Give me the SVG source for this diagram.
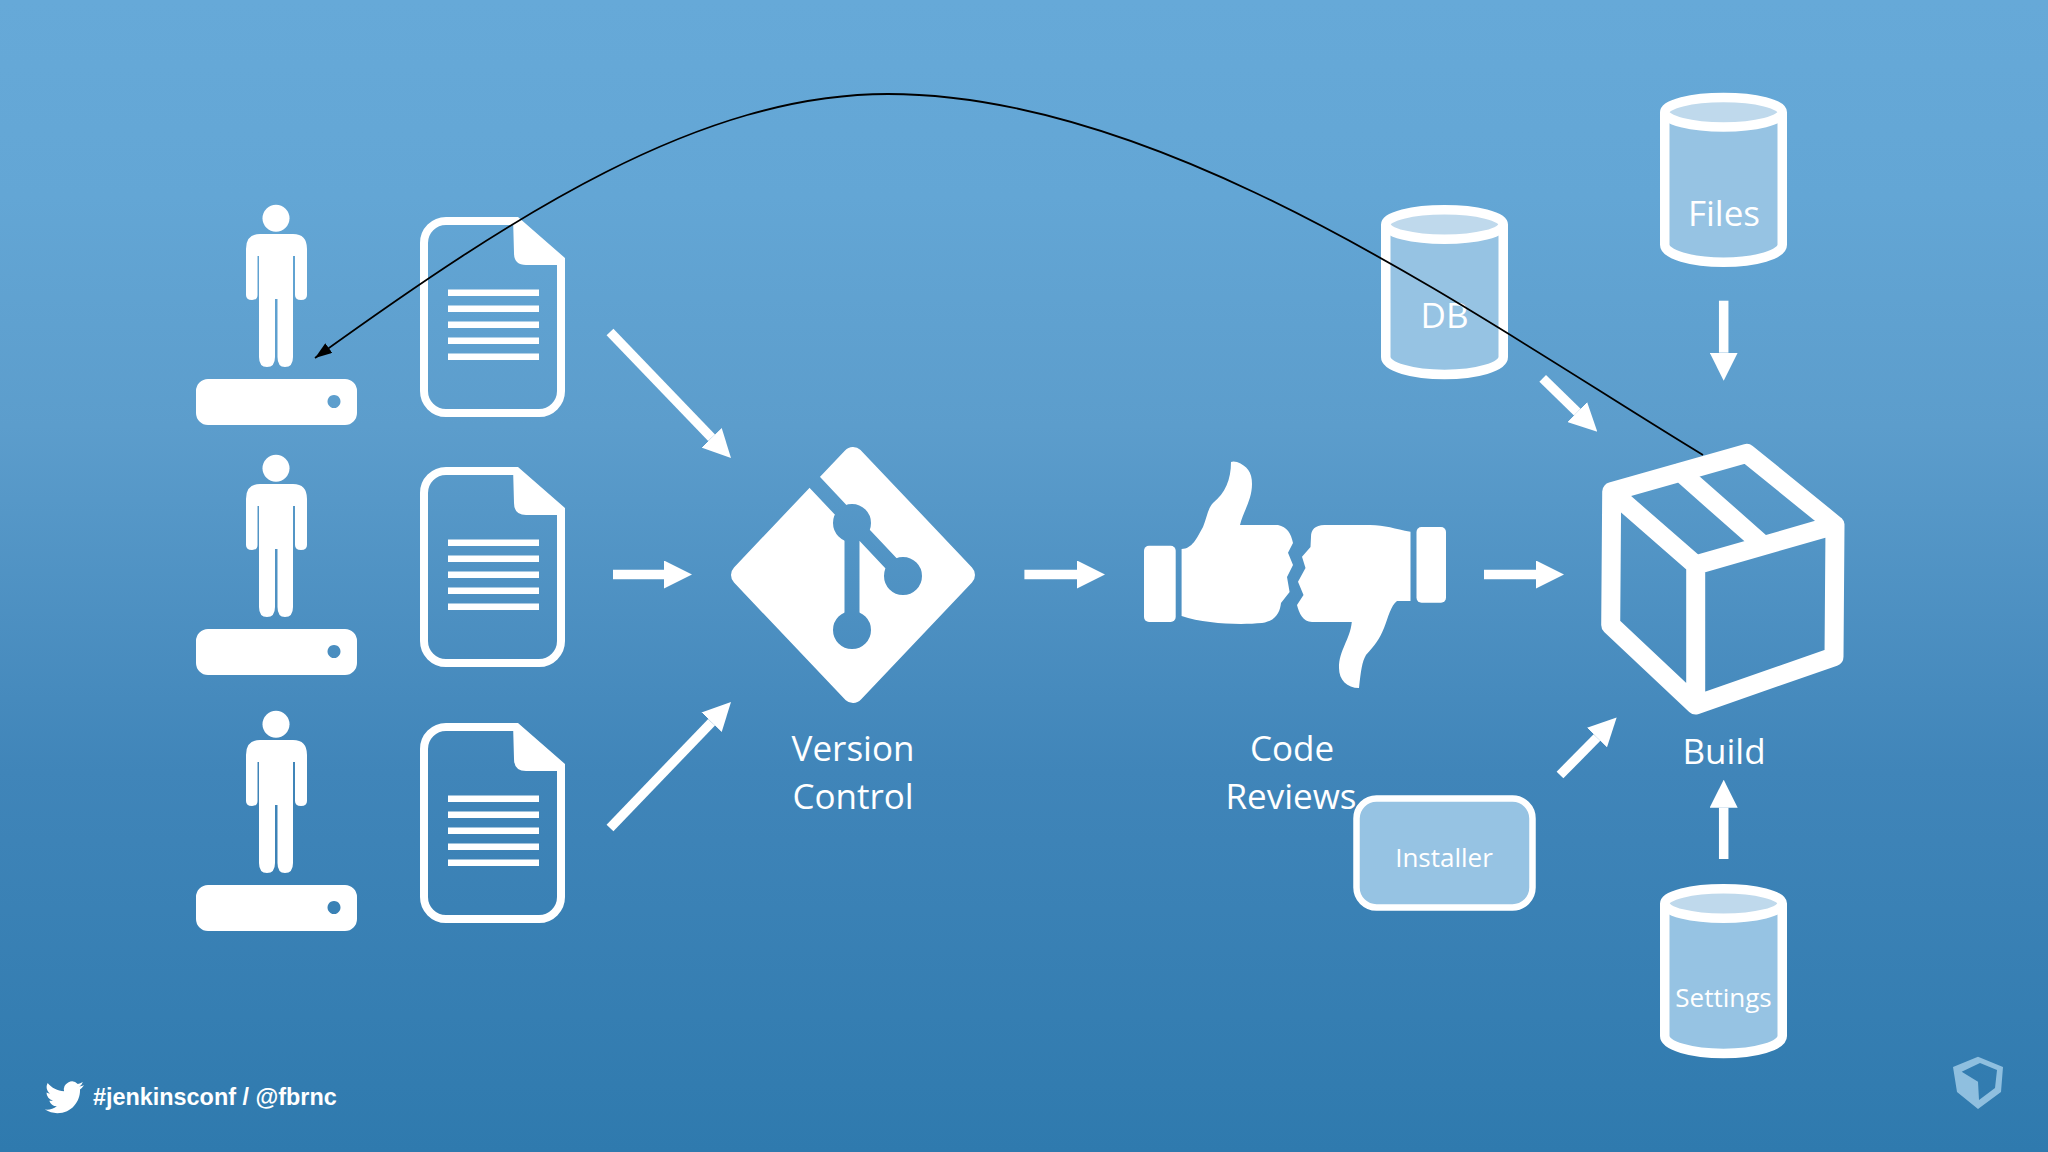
<svg xmlns="http://www.w3.org/2000/svg" xmlns:xlink="http://www.w3.org/1999/xlink" width="2048" height="1152" viewBox="0 0 2048 1152">
<style>
.label{font-family:"Open Sans","Noto Sans",sans-serif;fill:#fff;text-anchor:middle;font-size:35px}
.small{font-size:26px}
.arrow{stroke:#fff;stroke-width:9.500;fill:none;marker-end:url(#wh)}
.curve{stroke:#000;stroke-width:1.800;fill:none;marker-end:url(#bk)}
.foot{font-family:"Liberation Sans",Arial,sans-serif;font-weight:700;font-size:23.400px;fill:#fff}
</style>
<defs>
<linearGradient id="bg" x1="0" y1="0" x2="0" y2="1">
<stop offset="0" stop-color="#66a9d8"/><stop offset=".17" stop-color="#63a6d5"/><stop offset=".37" stop-color="#5c9dcc"/><stop offset=".67" stop-color="#4085b9"/><stop offset="1" stop-color="#2f7aae"/>
</linearGradient>
<marker id="wh" markerUnits="userSpaceOnUse" markerWidth="28" markerHeight="28" refX="0" refY="14" orient="auto"><path d="M0,0L28,14L0,28Z" fill="#fff"/></marker>
<marker id="bk" markerUnits="userSpaceOnUse" markerWidth="18" markerHeight="12" refX="17" refY="6" orient="auto"><path d="M0,0L17,6L0,12Z" fill="#000"/></marker>
<mask id="gitcut" maskUnits="userSpaceOnUse" x="700" y="420" width="300" height="310">
<rect x="700" y="420" width="300" height="310" fill="#fff"/>
<g fill="#000" stroke="#000" stroke-width="15">
<path d="M805,472L903,576M852,523V630" fill="none"/>
<circle cx="852" cy="523" r="11.500"/><circle cx="903" cy="576" r="11.500"/><circle cx="852" cy="630" r="11.500"/>
</g>
</mask>
<g id="person">
<circle cx="276" cy="218.300" r="13.500" fill="#fff"/>
<path fill="#fff" d="M260,234H293Q307,234 307,249V295Q307,300 301,300Q295,300 295,295V256H293V357Q293,367 285,367Q277.500,367 277.500,357V299H275V357Q275,367 267,367Q259,367 259,357V256H257.500V295Q257.500,300 252,300Q246,300 246,295V249Q246,234 260,234Z"/>
</g>
<path id="server" fill="#fff" fill-rule="evenodd" d="M208,379H345a12,12 0 0 1 12,12V413a12,12 0 0 1 -12,12H208a12,12 0 0 1 -12,-12V391a12,12 0 0 1 12,-12ZM334,395a6.500,6.500 0 1 0 .01,0Z"/>
<g id="doc">
<path fill="none" stroke="#fff" stroke-width="8" d="M514,221H446a22,22 0 0 0 -22,22V391a22,22 0 0 0 22,22H539a22,22 0 0 0 22,-22V262"/>
<path fill="#fff" d="M513,217H518L565,258V265H526Q514,265 514,253Z"/>
<path stroke="#fff" stroke-width="6.500" fill="none" d="M448,292.700H539M448,308.700H539M448,324.700H539M448,340.700H539M448,356.700H539"/>
</g>
<g id="cyl">
<path fill="#96c3e3" stroke="#fff" stroke-width="9.500" d="M4.750,19.500V152A58.750,17.500 0 0 0 122.250,152V19.500"/>
<ellipse cx="63.500" cy="19.500" rx="58.750" ry="14.750" fill="#bfd9ec" stroke="#fff" stroke-width="9.500"/>
</g>
</defs>
<rect id="background" width="2048" height="1152" fill="url(#bg)"/>

<g id="dev1"><use href="#person"/><use href="#server"/><use href="#doc"/></g>
<g id="dev2"><use href="#person" y="250"/><use href="#server" y="250"/><use href="#doc" y="250"/></g>
<g id="dev3"><use href="#person" y="506"/><use href="#server" y="506"/><use href="#doc" y="506"/></g>

<g id="version-control">
<polygon points="853,458 964,575 853,692 742,575" fill="#fff" stroke="#fff" stroke-width="22" stroke-linejoin="round" mask="url(#gitcut)"/>
<text class="label" x="853" y="761">Version</text>
<text class="label" x="853" y="809">Control</text>
</g>

<g id="code-reviews">
<rect x="1144" y="545.700" width="31.700" height="76.300" rx="5" fill="#fff"/>
<path fill="#fff" d="M1181.600,549C1192,549 1197,538 1203,527C1207,517 1208,508 1213,503C1225,493 1231,480 1231,462Q1233,461 1237,462C1247,466 1252,472 1252,484C1252,500 1243,512 1240,525H1278C1287,527 1291,533 1293,543L1288,552.700L1293,565L1287,577L1289.600,592L1281,603C1280,612 1276,621 1262,623C1240,625 1205,624 1181.600,616Z"/>
<rect x="1416.500" y="527" width="29.500" height="75.700" rx="5" fill="#fff"/>
<path fill="#fff" d="M1410.500,531.700C1395,529 1385,525 1370,525H1324.400C1315,525 1311,530 1311,536.700L1310.500,547L1302,556.700L1305.500,568L1298,581.700L1303.500,595L1297,605C1299,613 1303,622 1312,622H1351.800C1350,640 1339,650 1339,668C1339,680 1347,688 1359,688C1361,670 1362,662 1366,655C1375,645 1379,640 1384,628C1388,618 1391,605 1397,601H1410.500Z"/>
<text class="label" x="1292" y="761">Code</text>
<text class="label" x="1291" y="809">Reviews</text>
</g>

<g id="installer">
<rect x="1356.500" y="798.500" width="176" height="109" rx="20" fill="#96c3e3" stroke="#fff" stroke-width="6.500"/>
<text class="label small" x="1444" y="867">Installer</text>
</g>

<g id="db"><use href="#cyl" x="1381" y="205"/><text class="label" x="1444.500" y="328">DB</text></g>
<g id="files"><use href="#cyl" x="1660" y="92.700"/><text class="label" x="1724" y="226">Files</text></g>
<g id="settings"><use href="#cyl" x="1660" y="884"/><text class="label small" x="1723.500" y="1006.500">Settings</text></g>

<g id="connectors">
<line class="arrow" x1="610" y1="332" x2="711.600" y2="437.800"/>
<line class="arrow" x1="613" y1="574.500" x2="664" y2="574.500"/>
<line class="arrow" x1="610" y1="828" x2="711.600" y2="722.200"/>
<line class="arrow" x1="1024.400" y1="574.500" x2="1077" y2="574.500"/>
<line class="arrow" x1="1484" y1="574.500" x2="1536" y2="574.500"/>
<line class="arrow" x1="1542.700" y1="378.300" x2="1577.300" y2="412.100"/>
<line class="arrow" x1="1723.700" y1="300.700" x2="1723.700" y2="352.700"/>
<line class="arrow" x1="1723.700" y1="859" x2="1723.700" y2="807.700"/>
<line class="arrow" x1="1560" y1="775" x2="1597" y2="737.500"/>
<path class="curve" d="M1703,455C1480,320 1170,94 888,94C700,94 515,214 315,358"/>
</g>

<g id="build">
<path fill="none" stroke="#fff" stroke-width="19" stroke-linejoin="round" stroke-linecap="round" d="M1611.700,491.700L1746.700,453.300L1835,525L1695.700,565ZM1611.700,491.700L1610.700,625L1695.700,705L1834,656.700L1835,525M1695.700,565V705M1680.300,472L1763,545"/>
<text class="label" x="1724" y="764">Build</text>
</g>

<g id="footer">
<path id="bird" transform="translate(45,1077.800) scale(1.625)" fill="#fff" d="M23.953 4.570a10 10 0 01-2.825.775 4.958 4.958 0 002.163-2.723c-.951.555-2.005.959-3.127 1.184a4.920 4.920 0 00-8.384 4.482C7.690 8.095 4.067 6.130 1.640 3.162a4.822 4.822 0 00-.666 2.475c0 1.710.870 3.213 2.188 4.096a4.904 4.904 0 01-2.228-.616v.060a4.923 4.923 0 003.946 4.827 4.996 4.996 0 01-2.212.085 4.936 4.936 0 004.604 3.417 9.867 9.867 0 01-6.102 2.105c-.390 0-.779-.023-1.170-.067a13.995 13.995 0 007.557 2.209c9.053 0 13.998-7.496 13.998-13.985 0-.210 0-.420-.015-.630A9.935 9.935 0 0024 4.590z"/>
<text class="foot" x="93" y="1105">#jenkinsconf / @fbrnc</text>
<path id="logo" fill="#8fbfdf" fill-rule="evenodd" d="M1953,1067L1978,1056.700L2003,1067L2001,1092L1978,1109L1957,1092ZM1961.700,1071.700L1978,1081.700L1979,1100L1995,1088L1997,1070L1980,1063Z"/>
</g>
</svg>
